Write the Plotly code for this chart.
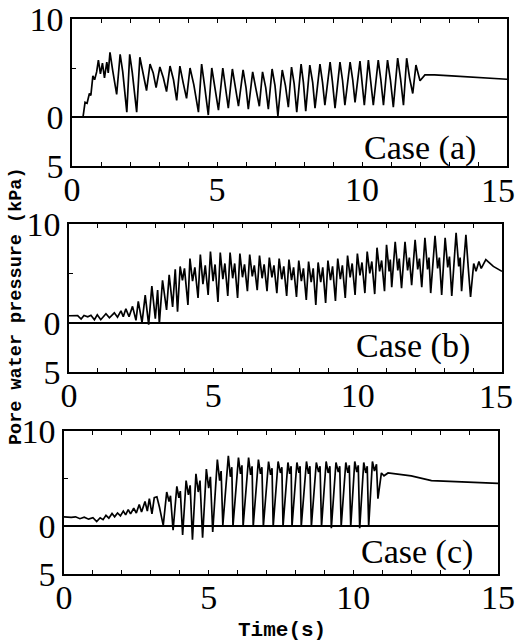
import plotly.graph_objects as go

# ---------------- data ----------------
t_a = [0.00, 0.38, 0.45, 0.52, 0.60, 0.65, 0.72, 0.78, 0.85, 0.91, 0.98, 1.05, 1.12, 1.20, 1.25,
       1.31, 1.40, 1.47, 1.54, 1.66, 1.75, 1.89, 1.99, 2.08, 2.23, 2.34, 2.45, 2.57, 2.69, 2.80,
       2.90, 3.03, 3.15, 3.26, 3.38, 3.50, 3.61, 3.72, 3.84, 3.95, 4.07, 4.20, 4.36, 4.47, 4.58,
       4.70, 4.82, 4.93, 5.05, 5.20, 5.30, 5.39, 5.53, 5.63, 5.74, 5.90, 6.00, 6.08, 6.23, 6.34,
       6.46, 6.57, 6.68, 6.77, 6.90, 7.00, 7.10, 7.25, 7.36, 7.46, 7.57, 7.66, 7.75, 7.90, 7.98,
       8.06, 8.20, 8.30, 8.38, 8.55, 8.64, 8.72, 8.90, 8.98, 9.07, 9.24, 9.33, 9.41, 9.59, 9.68,
       9.76, 9.93, 10.00, 10.08, 10.22, 10.30, 10.39, 10.56, 10.65, 10.74, 10.88, 10.98, 11.08,
       11.23, 11.33, 11.43, 11.54, 11.64, 11.75, 11.86, 12.00, 12.17, 12.50, 13.09, 14.00, 14.93, 15.00]
p_a = [0.0, 0.0, 1.5, 1.4, 2.4, 2.2, 4.2, 3.8, 4.6, 5.8, 4.4, 5.5, 4.0, 5.6, 4.5,
       6.6, 4.8, 3.5, 2.3, 6.4, 4.6, 0.5, 6.4, 4.5, 0.5, 6.1, 4.4, 2.7, 5.4, 4.5,
       3.0, 5.1, 4.0, 2.6, 5.2, 3.8, 1.7, 5.2, 3.4, 1.9, 5.0, 3.3, 0.5, 5.4, 3.0,
       0.2, 5.0, 3.0, 0.7, 5.0, 2.8, 0.9, 4.9, 3.0, 1.1, 4.8, 3.0, 0.8, 4.6, 2.9,
       1.1, 4.6, 3.0, 0.8, 4.9, 3.2, 0.1, 4.8, 3.2, 1.0, 5.1, 3.4, 0.5, 5.4, 3.5,
       0.6, 5.3, 3.5, 0.9, 5.4, 3.5, 1.2, 5.6, 3.6, 0.9, 5.6, 3.7, 1.2, 5.6, 3.8,
       1.5, 5.7, 3.8, 1.2, 5.8, 3.8, 1.2, 5.8, 3.8, 1.2, 5.8, 3.8, 1.0,
       6.0, 3.9, 1.2, 6.0, 4.0, 2.4, 5.3, 3.7, 4.3, 4.3, 4.2, 4.0, 3.85, 3.85]

t_b = [0.00, 0.30, 0.42, 0.52, 0.65, 0.76, 0.88, 0.98, 1.10, 1.28, 1.40, 1.57, 1.68, 1.80, 1.88,
       1.97, 2.08, 2.20, 2.32, 2.40, 2.53, 2.64, 2.76, 2.87, 2.99, 3.07, 3.13, 3.24, 3.38, 3.47,
       3.59, 3.68, 3.76, 3.85, 3.93, 4.00, 4.12, 4.19, 4.28, 4.36, 4.47, 4.55, 4.64, 4.72, 4.82,
       4.90, 4.99, 5.06, 5.16, 5.24, 5.33, 5.40, 5.50, 5.58, 5.67, 5.74, 5.84, 5.92, 6.01, 6.08,
       6.18, 6.26, 6.35, 6.42, 6.52, 6.60, 6.69, 6.76, 6.86, 6.94, 7.03, 7.10, 7.20, 7.28, 7.37,
       7.44, 7.54, 7.62, 7.71, 7.78, 7.88, 7.96, 8.05, 8.12, 8.22, 8.30, 8.39, 8.46, 8.55, 8.63,
       8.72, 8.79, 8.89, 8.97, 9.06, 9.13, 9.23, 9.31, 9.40, 9.47, 9.57, 9.65, 9.74, 9.81, 9.91,
       9.99, 10.08, 10.15, 10.25, 10.33, 10.42, 10.49, 10.59, 10.67, 10.76, 10.83, 10.93, 11.00,
       11.09, 11.13, 11.18, 11.30, 11.39, 11.44, 11.52, 11.64, 11.73, 11.79, 11.87, 11.99, 12.08,
       12.14, 12.22, 12.33, 12.42, 12.47, 12.53, 12.68, 12.77, 12.83, 12.91, 13.03, 13.12, 13.18,
       13.26, 13.41, 13.50, 13.55, 13.60, 13.75, 13.83, 13.91, 14.02, 14.10, 14.20, 14.28, 14.44,
       14.70, 15.00]
p_b = [0.70, 0.72, 0.37, 0.72, 0.60, 0.75, 0.30, 0.80, 0.30, 0.90, 0.50, 1.00, 0.55, 1.20, 0.60,
       1.40, 0.60, 1.65, 0.24, 2.15, 0.00, 2.80, -0.20, 3.70, 0.40, 3.30, -0.10, 4.30, 1.30, 4.85,
       1.60, 5.40, 1.10, 5.70, 4.30, 5.50, 1.80, 6.50, 4.20, 5.60, 2.50, 6.90, 3.90, 5.80, 2.80,
       7.20, 4.20, 5.90, 2.10, 7.10, 4.40, 6.00, 2.70, 7.10, 4.50, 6.00, 2.50, 7.00, 4.60, 5.90,
       3.20, 6.90, 4.70, 5.80, 3.30, 6.80, 4.50, 5.90, 3.20, 6.60, 4.60, 5.80, 3.00, 6.50, 4.40,
       5.70, 2.70, 6.40, 4.30, 5.60, 2.60, 6.30, 4.20, 5.50, 2.30, 6.20, 4.10, 5.50, 1.80, 6.10,
       4.10, 5.60, 2.00, 6.30, 4.30, 5.70, 2.20, 6.50, 4.40, 5.80, 2.50, 6.80, 4.60, 6.00, 2.80,
       7.00, 4.80, 6.10, 3.00, 7.20, 5.00, 6.20, 2.90, 7.60, 5.20, 6.30, 3.20, 7.90,
       5.20, 6.40, 3.60, 8.20, 5.30, 6.50, 3.50, 8.20, 5.30, 6.60, 3.80, 8.40, 5.40,
       6.50, 3.60, 8.60, 5.40, 6.60, 3.00, 8.80, 5.50, 6.60, 2.80, 8.60, 5.60, 6.70,
       2.70, 9.10, 5.70, 6.60, 3.20, 8.90, 5.60, 2.60, 6.00, 5.20, 6.20, 5.50, 6.40,
       5.70, 5.20]

t_c = [0.00, 0.25, 0.40, 0.55, 0.70, 0.85, 1.00, 1.13, 1.25, 1.35, 1.45, 1.55, 1.66, 1.75, 1.85,
       1.95, 2.05, 2.13, 2.22, 2.30, 2.41, 2.50, 2.60, 2.68, 2.80, 2.88, 2.95, 3.04, 3.12, 3.21,
       3.30, 3.43, 3.55, 3.63, 3.68, 3.77, 3.90, 3.97, 4.02, 4.10, 4.22, 4.30, 4.36, 4.44, 4.56,
       4.64, 4.70, 4.79, 4.92, 5.00, 5.06, 5.14, 5.30, 5.38, 5.43, 5.49, 5.68, 5.75, 5.80, 5.84,
       6.03, 6.10, 6.15, 6.19, 6.38, 6.45, 6.50, 6.54, 6.72, 6.79, 6.84, 6.89, 7.07, 7.14, 7.19,
       7.23, 7.40, 7.48, 7.53, 7.57, 7.74, 7.80, 7.85, 7.88, 8.05, 8.12, 8.16, 8.20, 8.38, 8.45,
       8.50, 8.55, 8.72, 8.80, 8.85, 8.90, 9.06, 9.13, 9.19, 9.24, 9.40, 9.48, 9.53, 9.58, 9.74,
       9.81, 9.86, 9.91, 10.05, 10.12, 10.17, 10.22, 10.36, 10.43, 10.48, 10.53, 10.66, 10.73,
       10.80, 10.85, 10.97, 11.06, 11.20, 12.00, 12.70, 13.40, 14.30, 15.00]
p_c = [1.00, 0.95, 1.00, 0.80, 0.95, 0.75, 0.90, 0.50, 0.90, 0.70, 1.15, 0.85, 1.35, 1.00, 1.40,
       1.10, 1.60, 1.20, 1.75, 1.30, 1.90, 1.40, 2.30, 1.50, 2.60, 1.60, 2.90, 1.30, 3.00, 3.10,
       2.00, 0.10, 3.60, 2.60, 3.20, -0.40, 4.20, 3.00, 3.70, -0.90, 4.80, 3.30, 4.30, -1.40, 5.50,
       3.60, 4.80, -1.20, 6.00, 4.00, 5.20, -0.60, 7.00, 4.80, 5.80, 0.10, 7.40, 5.20, 6.20, 0.00,
       7.20, 5.50, 6.40, 0.00, 7.20, 5.40, 6.30, 0.00, 7.00, 5.50, 6.20, 0.00, 6.80, 5.40, 6.10,
       0.00, 6.80, 5.60, 6.20, 0.00, 6.70, 5.50, 6.30, 0.00, 6.70, 5.60, 6.30, 0.00, 6.80, 5.50,
       6.30, 0.00, 6.70, 5.70, 6.30, 0.00, 6.80, 5.60, 6.30, -0.20, 6.70, 5.70, 6.30, 0.00, 6.70,
       5.60, 6.40, 0.00, 6.80, 5.70, 6.40, -0.20, 6.70, 5.60, 6.30, 0.00, 6.80, 5.80,
       6.50, 2.90, 5.60, 5.30, 5.60, 5.30, 4.80, 4.70, 4.60, 4.50]

case_labels = ["Case (a)", "Case (b)", "Case (c)"]
x_tickvals = [0, 5, 10, 15]
x_ticktext = ["0", "5", "10", "15"]
y_tickvals = [-5, 0, 5, 10]
y_ticktext = ["5", "0", "", "10"]
y_title = "Pore water pressure (kPa)"
x_title = "Time(s)"

# ---------------- layout geometry ----------------
W, H = 518, 641
boxes = [  # left, right, top, bottom in pixels
    (72, 507, 19, 166),
    (69, 502, 224, 372),
    (64, 498, 431, 574),
]
# the last time label of the two upper panels sits against the page edge, so it is
# drawn as an annotation at x = 15 nudged left (as in the scanned original)
edge_label_nudge = [-9, -6, None]
label_pos = [(12.0, -3.2), (11.9, -2.4), (12.2, -2.7)]

TICK_FONT = dict(family="Liberation Serif, DejaVu Serif, serif", size=34, color="black")
TXT_FONT = dict(family="Liberation Mono, DejaVu Sans Mono", size=18.5, color="black")

fig = go.Figure()
series = [(t_a, p_a), (t_b, p_b), (t_c, p_c)]
for i, (tt, pp) in enumerate(series):
    sfx = "" if i == 0 else str(i + 1)
    fig.add_trace(go.Scatter(x=tt, y=pp, mode="lines", xaxis="x" + sfx, yaxis="y" + sfx,
                             line=dict(color="black", width=1.7), showlegend=False,
                             hoverinfo="skip"))

layout = dict(template="none", width=W, height=H, margin=dict(l=0, r=0, t=0, b=0, pad=0),
              autosize=False, paper_bgcolor="white", plot_bgcolor="white", showlegend=False)
annotations = []
for i, (l, r, t, b) in enumerate(boxes):
    sfx = "" if i == 0 else str(i + 1)
    nudge = edge_label_nudge[i]
    ttext = list(x_ticktext)
    if nudge is not None:
        ttext[-1] = ""
    xa = dict(domain=[l / W, r / W], range=[0, 15], anchor="y" + sfx, automargin=False,
              tickmode="array", tickvals=x_tickvals, ticktext=ttext,
              ticks="inside", ticklen=4, tickwidth=1.2, tickcolor="black",
              ticklabeloverflow="allow", ticklabelstandoff=-8,
              minor=dict(dtick=1, ticks="inside", ticklen=4, tickcolor="black", tickwidth=1.2),
              showline=True, linecolor="black", linewidth=1.6, mirror="allticks",
              showgrid=False, zeroline=False, tickfont=TICK_FONT, fixedrange=True)
    ya = dict(domain=[1 - b / H, 1 - t / H], range=[-5, 10], anchor="x" + sfx, automargin=False,
              tickmode="array", tickvals=y_tickvals, ticktext=y_ticktext,
              ticks="inside", ticklen=4, tickwidth=1.2, tickcolor="black",
              ticklabeloverflow="allow",
              showline=True, linecolor="black", linewidth=1.6, mirror=True,
              showgrid=False, zeroline=True, zerolinecolor="black", zerolinewidth=1.8,
              tickfont=TICK_FONT, fixedrange=True)
    layout["xaxis" + sfx] = xa
    layout["yaxis" + sfx] = ya
    lx, ly = label_pos[i]
    annotations.append(dict(text=case_labels[i], x=lx, y=ly, xref="x" + sfx, yref="y" + sfx,
                            showarrow=False, xanchor="center", yanchor="middle",
                            font=TICK_FONT))
    if nudge is not None:
        annotations.append(dict(text=x_ticktext[-1], x=x_tickvals[-1], y=-5,
                                xref="x" + sfx, yref="y" + sfx, xshift=nudge, yshift=-4,
                                showarrow=False, xanchor="center", yanchor="top",
                                font=TICK_FONT))

annotations.append(dict(text="<b>" + y_title + "</b>", x=16 / W, y=1 - 306 / H,
                        xref="paper", yref="paper",
                        showarrow=False, textangle=-90, xanchor="center", yanchor="middle",
                        font=TXT_FONT))
annotations.append(dict(text="<b>" + x_title + "</b>", x=282 / W, y=1 - 630 / H,
                        xref="paper", yref="paper",
                        showarrow=False, xanchor="center", yanchor="middle",
                        font=dict(family="Liberation Mono, DejaVu Sans Mono", size=21, color="black")))
layout["annotations"] = annotations
fig.update_layout(**layout)
fig.write_html("out.html")
